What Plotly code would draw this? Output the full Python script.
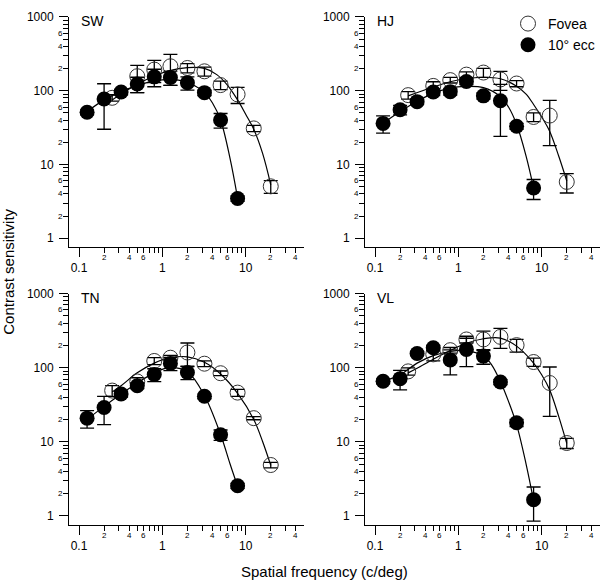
import math
import plotly.graph_objects as go

# ---------------- data ----------------
PANELS = ["SW", "HJ", "TN", "VL"]

FOVEA_SF = [0.25, 0.5, 0.8, 1.25, 2, 3.2, 5, 8, 12.5, 20]
ECC_SF = [0.125, 0.2, 0.32, 0.5, 0.8, 1.25, 2, 3.2, 5, 8]

SW_fovea_cs = [80, 157, 193, 214, 203, 183, 119, 89, 30.8, 5.05]
SW_fovea_err = [8, 63, 64, 96, 29, 26, 16, 22, 3, 1.0]
SW_ecc_cs = [51, 77, 96, 123, 154, 151, 128, 94, 40, 3.46]
SW_ecc_err = [4, 47, 8, 29, 41, 33, 26, 8, 9, 0.3]

HJ_fovea_cs = [87, 116, 139, 165, 176, 142, 125, 44, 46, 5.8]
HJ_fovea_err = [10, 16, 12, 15, 25, 41, 12, 6, 28, 1.7]
HJ_ecc_cs = [36, 55, 71, 96, 97, 133, 85, 73, 33, 4.8]
HJ_ecc_err = [9.5, 8, 6, 10, 10, 12, 8, 49, 3, 1.45]

TN_fovea_cs = [49, 65, 123, 136, 160, 113, 84, 46, 20.8, 4.85]
TN_fovea_err = [8, 8, 13, 10, 55, 10, 6, 5, 1, 0.4]
TN_ecc_cs = [20.8, 29, 44, 57, 80.6, 114, 86, 41, 12.4, 2.54]
TN_ecc_err = [5.5, 12, 4, 5, 16, 23, 17, 3, 2, 0.2]

VL_fovea_cs = [89, 151, 172, 240, 240, 260, 201, 119, 62, 9.6]
VL_fovea_err = [10, 28, 15, 25, 70, 78, 39, 15, 40, 1.5]
VL_ecc_cs = [65.6, 71, 155, 185, 127, 176, 143, 64, 18, 1.65]
VL_ecc_err = [5, 21, 10, 15, 47, 73, 32, 5, 2, 0.8]

# fitted curves
SW_fovea_fit_sf = [0.25, 0.32, 0.5, 0.8, 1.2, 2, 3.2, 4.5, 6, 8, 10, 12.5, 16, 20]
SW_fovea_fit_cs = [75, 90, 122, 158, 185, 205, 200, 165, 120, 75, 48, 30, 14, 5.3]
SW_ecc_fit_sf = [0.125, 0.2, 0.32, 0.5, 0.8, 1.2, 2, 2.5, 3.2, 4, 5, 6.5, 8]
SW_ecc_fit_cs = [52, 75, 97, 118, 135, 142, 130, 115, 95, 68, 40, 12, 3.5]

HJ_fovea_fit_sf = [0.25, 0.5, 0.8, 1.2, 2, 3.2, 5, 6.5, 8, 10, 12.5, 16, 20]
HJ_fovea_fit_cs = [85, 112, 132, 145, 152, 145, 115, 90, 65, 44, 28, 13, 6]
HJ_ecc_fit_sf = [0.125, 0.2, 0.32, 0.5, 0.8, 1.2, 2, 3.2, 4, 5, 6.5, 8]
HJ_ecc_fit_cs = [36, 52, 72, 92, 108, 114, 110, 83, 60, 35, 13, 4.8]

TN_fovea_fit_sf = [0.25, 0.32, 0.5, 0.8, 1.2, 2, 3.2, 5, 8, 12.5, 16, 20]
TN_fovea_fit_cs = [47, 57, 85, 115, 135, 140, 118, 82, 45, 20, 10, 4.8]
TN_ecc_fit_sf = [0.125, 0.2, 0.32, 0.5, 0.8, 1.2, 2, 3.2, 5, 6.5, 8]
TN_ecc_fit_cs = [20, 30, 44, 62, 85, 100, 88, 42, 12.5, 5, 2.5]

VL_fovea_fit_sf = [0.25, 0.32, 0.5, 0.8, 1.2, 2, 3.2, 5, 8, 10, 12.5, 16, 20]
VL_fovea_fit_cs = [85, 98, 130, 170, 210, 245, 250, 195, 115, 80, 50, 22, 9.5]
VL_ecc_fit_sf = [0.125, 0.2, 0.32, 0.5, 0.8, 1.2, 2, 2.5, 3.2, 4, 5, 6.5, 8]
VL_ecc_fit_cs = [65, 80, 115, 145, 165, 170, 145, 110, 65, 35, 17, 5, 1.6]

# tick labels
X_MAJOR = [0.1, 1, 10]
X_MAJOR_TEXT = ["0.1", "1", "10"]
X_MINOR_LABELED = [0.2, 0.4, 0.6, 2, 4, 6, 20, 40]
X_MINOR_TEXT = ["2", "4", "6", "2", "4", "6", "2", "4"]
X_MINOR = [0.2, 0.3, 0.4, 0.5, 0.6, 0.7, 0.8, 0.9, 2, 3, 4, 5, 6, 7, 8, 9, 20, 30, 40]
Y_MAJOR = [1, 10, 100, 1000]
Y_MAJOR_TEXT = ["1", "10", "100", "1000"]
Y_MINOR_LABELED = [2, 4, 6, 20, 40, 60, 200, 400, 600]
Y_MINOR_TEXT = ["2", "4", "6", "2", "4", "6", "2", "4", "6"]
Y_MINOR = [2, 3, 4, 5, 6, 7, 8, 9, 20, 30, 40, 50, 60, 70, 80, 90,
           200, 300, 400, 500, 600, 700, 800, 900]

DATA = {
    "SW": (SW_fovea_cs, SW_fovea_err, SW_ecc_cs, SW_ecc_err,
           SW_fovea_fit_sf, SW_fovea_fit_cs, SW_ecc_fit_sf, SW_ecc_fit_cs),
    "HJ": (HJ_fovea_cs, HJ_fovea_err, HJ_ecc_cs, HJ_ecc_err,
           HJ_fovea_fit_sf, HJ_fovea_fit_cs, HJ_ecc_fit_sf, HJ_ecc_fit_cs),
    "TN": (TN_fovea_cs, TN_fovea_err, TN_ecc_cs, TN_ecc_err,
           TN_fovea_fit_sf, TN_fovea_fit_cs, TN_ecc_fit_sf, TN_ecc_fit_cs),
    "VL": (VL_fovea_cs, VL_fovea_err, VL_ecc_cs, VL_ecc_err,
           VL_fovea_fit_sf, VL_fovea_fit_cs, VL_ecc_fit_sf, VL_ecc_fit_cs),
}

# ---------------- layout ----------------
W, H = 603, 583
FONT = "Liberation Sans, Arial, Helvetica, sans-serif"


def xdom(l, r):
    return [l / W, r / W]


def ydom(top, bottom):
    return [1 - bottom / H, 1 - top / H]


DOMAINS = [
    (xdom(69, 304), ydom(10, 243)),
    (xdom(365, 600), ydom(10, 243)),
    (xdom(69, 304), ydom(290, 524)),
    (xdom(365, 600), ydom(290, 524)),
]

fig = go.Figure()
annotations = []
layout = dict(
    width=W, height=H,
    margin=dict(l=0, r=0, t=0, b=0),
    paper_bgcolor="white", plot_bgcolor="white",
    font=dict(family=FONT, color="black"),
    showlegend=True,
    legend=dict(x=508 / W, y=1 - 1 / H, xanchor="left", yanchor="top",
                font=dict(size=14, family=FONT), bgcolor="rgba(0,0,0,0)",
                tracegroupgap=0, itemwidth=30),
)

for i, name in enumerate(PANELS):
    n = "" if i == 0 else str(i + 1)
    xa, ya = "x" + n, "y" + n
    xd, yd = DOMAINS[i]
    (f_cs, f_err, e_cs, e_err, ffs, ffc, efs, efc) = DATA[name]

    layout["xaxis" + n] = dict(
        type="log", range=[-1.12, 1.70], domain=xd, anchor=ya,
        showline=True, linecolor="black", linewidth=1,
        ticks="outside", ticklen=9, tickwidth=1, tickcolor="black",
        tickvals=X_MAJOR, ticktext=X_MAJOR_TEXT,
        tickfont=dict(size=12, family=FONT, color="black"),
        ticklabelstandoff=1,
        minor=dict(tickvals=X_MINOR, ticklen=5, tickwidth=1,
                   tickcolor="black", ticks="outside", showgrid=False),
        showgrid=False, zeroline=False, fixedrange=True,
    )
    layout["yaxis" + n] = dict(
        type="log", range=[-0.12, 3.0], domain=yd, anchor=xa,
        showline=True, linecolor="black", linewidth=1,
        ticks="outside", ticklen=9, tickwidth=1, tickcolor="black",
        tickvals=Y_MAJOR, ticktext=Y_MAJOR_TEXT,
        tickfont=dict(size=12, family=FONT, color="black"),
        ticklabelstandoff=3,
        minor=dict(tickvals=Y_MINOR, ticklen=5, tickwidth=1,
                   tickcolor="black", ticks="outside", showgrid=False),
        showgrid=False, zeroline=False, fixedrange=True,
    )

    # minor tick labels
    for v, t in zip(X_MINOR_LABELED, X_MINOR_TEXT):
        annotations.append(dict(
            x=math.log10(v), y=0, xref=xa, yref=ya + " domain",
            text=t, showarrow=False, xanchor="center", yanchor="top",
            yshift=-5, font=dict(size=8, family=FONT, color="black"),
            borderpad=0))
    for v, t in zip(Y_MINOR_LABELED, Y_MINOR_TEXT):
        annotations.append(dict(
            x=0, y=math.log10(v), xref=xa + " domain", yref=ya,
            text=t, showarrow=False, xanchor="right", yanchor="middle",
            xshift=-5, font=dict(size=8, family=FONT, color="black"),
            borderpad=0))
    # panel label
    annotations.append(dict(
        x=10 / 235, y=1, xref=xa + " domain", yref=ya + " domain",
        text=name, showarrow=False, xanchor="left", yanchor="middle",
        yshift=-4, font=dict(size=14, family=FONT, color="black")))

    # fitted curves
    fig.add_trace(go.Scatter(
        x=ffs, y=ffc, mode="lines", line=dict(color="black", width=1.2, shape="spline"),
        xaxis=xa, yaxis=ya, showlegend=False, hoverinfo="skip"))
    fig.add_trace(go.Scatter(
        x=efs, y=efc, mode="lines", line=dict(color="black", width=1.2, shape="spline"),
        xaxis=xa, yaxis=ya, showlegend=False, hoverinfo="skip"))

    # fovea (open circles)
    fig.add_trace(go.Scatter(
        x=FOVEA_SF, y=f_cs, mode="markers", name="Fovea",
        marker=dict(symbol="circle-open", size=15, color="#333",
                    line=dict(width=1, color="#333")),
        error_y=dict(type="data", array=f_err, visible=True,
                     color="black", thickness=1.3, width=7),
        xaxis=xa, yaxis=ya, showlegend=(i == 0)))
    # 10 deg eccentricity (filled circles)
    fig.add_trace(go.Scatter(
        x=ECC_SF, y=e_cs, mode="markers", name="10° ecc",
        marker=dict(symbol="circle", size=15, color="black",
                    line=dict(width=0)),
        error_y=dict(type="data", array=e_err, visible=True,
                     color="black", thickness=1.3, width=7),
        xaxis=xa, yaxis=ya, showlegend=(i == 0)))

# axis titles
annotations.append(dict(
    x=9 / W, y=1 - 268 / H, xref="paper", yref="paper",
    text="Contrast sensitivity", showarrow=False, textangle=-90,
    xanchor="center", yanchor="middle",
    font=dict(size=15, family=FONT, color="black")))
annotations.append(dict(
    x=324 / W, y=1 - 571 / H, xref="paper", yref="paper",
    text="Spatial frequency (c/deg)", showarrow=False,
    xanchor="center", yanchor="middle",
    font=dict(size=15, family=FONT, color="black")))

layout["annotations"] = annotations
fig.update_layout(**layout)
fig.write_html(
    "out.html",
    config={"displayModeBar": False, "staticPlot": True},
    post_script="document.body.style.margin='0px';document.body.style.overflow='hidden';",
)
